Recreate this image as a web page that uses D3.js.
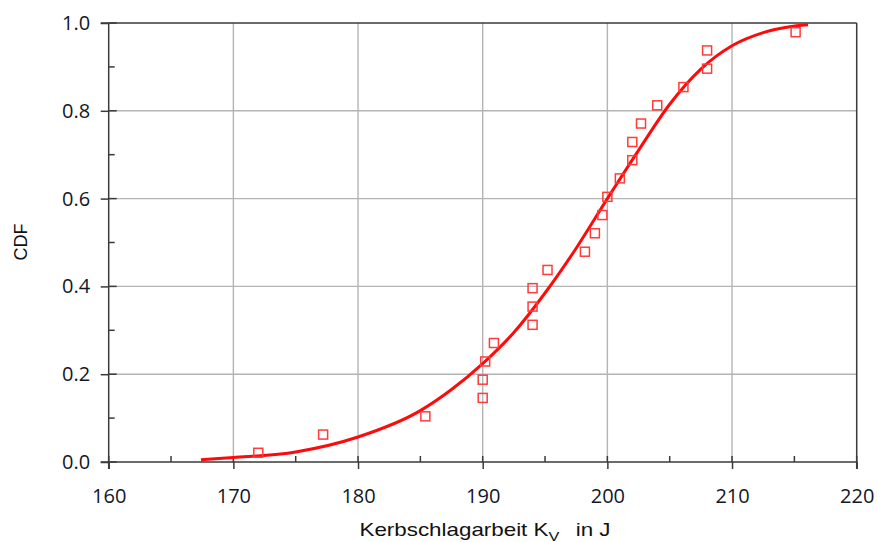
<!DOCTYPE html>
<html>
<head>
<meta charset="utf-8">
<script src="https://cdn.jsdelivr.net/npm/d3@7"></script>
<style>
  body { margin: 0; background: #fff; }
  svg { display: block; }
</style>
</head>
<body>
<div id="chart"></div>
<script>
// measured points (Kerbschlagarbeit, empirical CDF)
let pointX = [172.0, 177.2, 185.4, 190.0, 190.0, 190.2, 190.9, 194.0, 194.0, 194.0, 195.2, 198.2,
              199.0, 199.6, 200.0, 201.0, 202.0, 202.0, 202.7, 204.0, 206.1, 208.0, 208.0, 215.1];
let pointY = [0.021, 0.0625, 0.104, 0.146, 0.1875, 0.229, 0.271, 0.3125, 0.354, 0.396, 0.4375, 0.479,
              0.521, 0.5625, 0.604, 0.646, 0.6875, 0.729, 0.771, 0.8125, 0.854, 0.896, 0.9375, 0.979];

// fitted distribution curve
let curveX = [167.4, 170.0, 175.0, 180.0, 185.0, 187.5, 190.0, 192.5, 195.0, 197.5, 200.0, 202.5,
              205.0, 207.5, 210.0, 212.5, 214.5, 216.1];
let curveY = [0.005, 0.010, 0.023, 0.057, 0.117, 0.165, 0.224, 0.295, 0.385, 0.487, 0.600, 0.710,
              0.815, 0.895, 0.948, 0.978, 0.991, 0.996];

let xTicks = [160, 170, 180, 190, 200, 210, 220];
let xMinor = [165, 175, 185, 195, 205, 215];
let yTicks = [0.0, 0.2, 0.4, 0.6, 0.8, 1.0];
let yMinor = [0.1, 0.3, 0.5, 0.7, 0.9];

const chartWidth = 877, chartHeight = 542;
const plotLeft = 108.7, plotRight = 856.7, plotTop = 23, plotBottom = 462;
const axisColor = '#3a3a3a';
const gridColor = '#b4b4b4';

let svg = d3.select('#chart').append('svg')
    .attr('width', chartWidth)
    .attr('height', chartHeight);

let x = d3.scaleLinear().domain([160, 220]).range([plotLeft, plotRight]);
let y = d3.scaleLinear().domain([0, 1]).range([plotBottom, plotTop]);

//Grid
svg.append('g').selectAll('line')
    .data(xTicks.slice(1, -1)).enter().append('line')
    .attr('x1', d => x(d)).attr('x2', d => x(d))
    .attr('y1', plotTop).attr('y2', plotBottom)
    .attr('stroke', gridColor).attr('stroke-width', 1.4);
svg.append('g').selectAll('line')
    .data(yTicks.slice(1, -1)).enter().append('line')
    .attr('x1', plotLeft).attr('x2', plotRight)
    .attr('y1', d => y(d)).attr('y2', d => y(d))
    .attr('stroke', gridColor).attr('stroke-width', 1.4);

//Frame top and right
svg.append('line').attr('x1', plotLeft - 8).attr('x2', plotRight).attr('y1', plotTop).attr('y2', plotTop)
    .attr('stroke', axisColor).attr('stroke-width', 1.5);
svg.append('line').attr('x1', plotRight).attr('x2', plotRight).attr('y1', plotTop).attr('y2', plotBottom + 7)
    .attr('stroke', axisColor).attr('stroke-width', 1.5);

//Axes
let xAxis = d3.axisBottom(x).tickValues(xTicks).tickSize(7).tickPadding(20).tickFormat(d3.format('d'));
let gx = svg.append('g').attr('transform', 'translate(0,' + plotBottom + ')').call(xAxis);
let yAxis = d3.axisLeft(y).tickValues(yTicks).tickSize(8).tickPadding(10.5).tickFormat(d3.format('.1f'));
let gy = svg.append('g').attr('transform', 'translate(' + plotLeft + ',0)').call(yAxis);

[gx, gy].forEach(g => {
    g.select('.domain').attr('stroke', axisColor).attr('stroke-width', 1.5);
    g.selectAll('.tick line').attr('stroke', axisColor).attr('stroke-width', 1.5);
    g.selectAll('.tick text')
        .attr('fill', '#111827')
        .style('font-family', '"Open Sans", "Noto Sans", sans-serif')
        .style('font-size', '20px');
});
gx.select('.domain').attr('d', 'M' + (plotLeft - 8) + ',0H' + plotRight);
gy.select('.domain').attr('d', 'M0,' + (plotBottom + 7) + 'V' + plotTop);

//Inward part of major ticks, and minor ticks
svg.append('g').selectAll('line')
    .data(xTicks.concat(xMinor)).enter().append('line')
    .attr('x1', d => x(d)).attr('x2', d => x(d))
    .attr('y1', plotBottom - 6).attr('y2', plotBottom)
    .attr('stroke', axisColor).attr('stroke-width', 1.5);
svg.append('g').selectAll('line')
    .data(yTicks).enter().append('line')
    .attr('x1', plotLeft).attr('x2', plotLeft + 8)
    .attr('y1', d => y(d)).attr('y2', d => y(d))
    .attr('stroke', axisColor).attr('stroke-width', 1.5);
svg.append('g').selectAll('line')
    .data(yMinor).enter().append('line')
    .attr('x1', plotLeft).attr('x2', plotLeft + 6)
    .attr('y1', d => y(d)).attr('y2', d => y(d))
    .attr('stroke', axisColor).attr('stroke-width', 1.5);

//Curve
let curveData = curveX.map((v, i) => ({x: v, y: curveY[i]}));
let line = d3.line().x(d => x(d.x)).y(d => y(d.y)).curve(d3.curveMonotoneX);
svg.append('path')
    .datum(curveData)
    .attr('d', line)
    .attr('fill', 'none')
    .attr('stroke', '#ff0a0a')
    .attr('stroke-width', 3);

//Points
let size = 9;
svg.append('g').selectAll('rect')
    .data(pointX.map((v, i) => ({x: v, y: pointY[i]}))).enter().append('rect')
    .attr('x', d => x(d.x) - size / 2)
    .attr('y', d => y(d.y) - size / 2)
    .attr('width', size).attr('height', size)
    .attr('fill', 'none')
    .attr('stroke', '#ff3b3b')
    .attr('stroke-width', 1.5);

//Axis titles (the reference lettering is a bit wide, so stretch it horizontally)
let title = svg.append('text')
    .attr('transform', 'translate(' + 485 + ',536)scale(1.21,1)')
    .attr('text-anchor', 'middle')
    .attr('fill', '#111')
    .style('font-family', '"Liberation Sans", Arial, sans-serif')
    .style('font-size', '18.5px');
title.append('tspan').text('Kerbschlagarbeit K');
title.append('tspan').attr('dy', 4.5).style('font-size', '13.5px').text('V');
title.append('tspan').attr('dy', -4.5).attr('dx', 13.5).text('in J');

svg.append('text')
    .attr('transform', 'translate(27,242)rotate(-90)')
    .attr('text-anchor', 'middle')
    .attr('fill', '#111')
    .style('font-family', '"Liberation Sans", Arial, sans-serif')
    .style('font-size', '18px')
    .text('CDF');
</script>
</body>
</html>
